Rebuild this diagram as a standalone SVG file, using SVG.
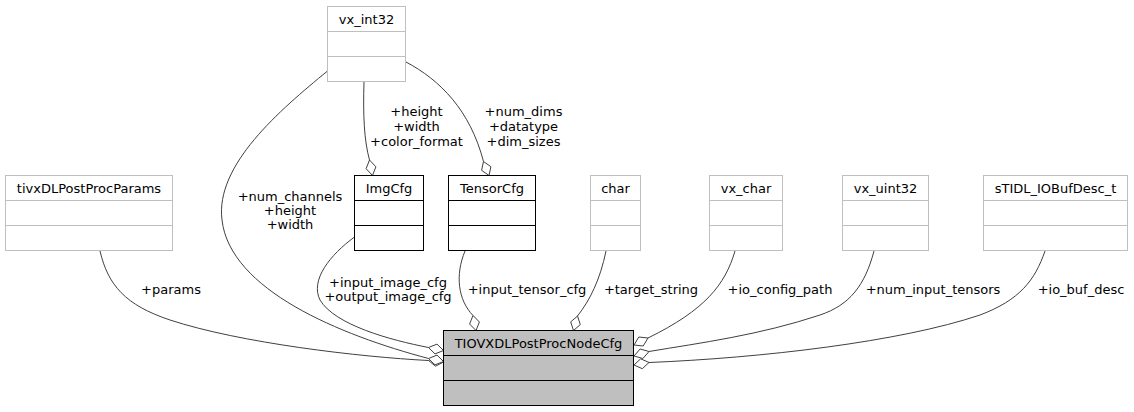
<svg xmlns="http://www.w3.org/2000/svg" width="1134" height="412" viewBox="0 0 1134 412">
<style>
text{font-family:"DejaVu Sans","Noto Sans",sans-serif;font-size:13px;fill:#000}
.c{text-anchor:middle}
.g rect,.g line{fill:#fff;stroke:#bfbfbf;stroke-width:1}
.k rect,.k line{fill:#fff;stroke:#000;stroke-width:1}
.m rect{fill:#bfbfbf;stroke:#000;stroke-width:1}
.m line{stroke:#000;stroke-width:1}
.e path{fill:none;stroke:#404040;stroke-width:1}
.e polygon{fill:#fff;stroke:#404040;stroke-width:1}
</style>
<rect width="1134" height="412" fill="#fff"/>
<g id="connectors" class="e">
<path d="M100,251 C108,285 125,305 170,320 C240,343 360,357 428.5,360.5"/>
<polygon points="428.5,360.5 435.5,366.2 443.5,362 436.5,356.3"/>
<path d="M327.5,71 C280,110 215,165 222,220 C230,290 340,335 428.5,358.5"/>
<polygon points="428.5,358.5 435,364.9 443.5,361.5 437,355.1"/>
<path d="M354.5,237 C330,255 310,280 320,300 C335,325 390,340 428.5,347.5"/>
<polygon points="428.5,347.5 435,353.9 443.5,350.5 437,344.1"/>
<path d="M364,81.5 C363,115 364,140 369.5,160"/>
<polygon points="369.5,160 366.1,168.7 372.5,175.5 375.9,166.8"/>
<path d="M406,62 C440,80 470,110 483.5,161.5"/>
<polygon points="483.5,161.5 481.6,170.3 489,175.5 490.9,166.7"/>
<path d="M465,251 C455,275 458,300 473,315.5"/>
<polygon points="473,315.5 469.6,324 476,330.5 479.4,322"/>
<path d="M606,251 C600,280 590,300 577.5,316"/>
<polygon points="577.5,316 570.7,321.9 573.5,330.5 580.3,324.6"/>
<path d="M735,251 C725,285 705,310 648,338"/>
<polygon points="648,338 638.8,337 634,345 643.2,346"/>
<path d="M874,251 C865,285 850,305 820,315 C760,335 700,343 649,351.5"/>
<polygon points="649,351.5 640.1,349 634,356 642.9,358.5"/>
<path d="M1045,251 C1035,280 1020,300 980,315 C900,342 760,358 649,362.5"/>
<polygon points="649,362.5 640.7,358.8 634,365 642.3,368.7"/>
<text class="c" x="171" y="294">+params</text>
<text class="c" x="290" y="201">+num_channels</text>
<text class="c" x="290" y="215">+height</text>
<text class="c" x="290" y="229">+width</text>
<text class="c" x="416.5" y="116">+height</text>
<text class="c" x="416.5" y="131">+width</text>
<text class="c" x="416.5" y="146">+color_format</text>
<text class="c" x="523.5" y="116">+num_dims</text>
<text class="c" x="523.5" y="131">+datatype</text>
<text class="c" x="523.5" y="146">+dim_sizes</text>
<text class="c" x="388" y="286.5">+input_image_cfg</text>
<text class="c" x="388" y="300.5">+output_image_cfg</text>
<text class="c" x="527" y="293.5">+input_tensor_cfg</text>
<text class="c" x="651" y="293.5">+target_string</text>
<text class="c" x="780" y="293.5">+io_config_path</text>
<text class="c" x="933" y="293.5">+num_input_tensors</text>
<text class="c" x="1081" y="293.5">+io_buf_desc</text>
</g>
<g id="TIOVXDLPostProcNodeCfg" class="m">
<rect x="443.5" y="330.5" width="190" height="75"/>
<line x1="443.5" y1="355.5" x2="633.5" y2="355.5"/>
<line x1="443.5" y1="380.5" x2="633.5" y2="380.5"/>
<text class="c" x="538.5" y="347.5">TIOVXDLPostProcNodeCfg</text>
</g>
<g id="tivxDLPostProcParams" class="g">
<rect x="5.5" y="175.5" width="167" height="75"/>
<line x1="5.5" y1="200.5" x2="172.5" y2="200.5"/>
<line x1="5.5" y1="225.5" x2="172.5" y2="225.5"/>
<text class="c" x="89" y="192.5">tivxDLPostProcParams</text>
</g>
<g id="vx_int32" class="g">
<rect x="327.5" y="6.5" width="78" height="75"/>
<line x1="327.5" y1="31.5" x2="405.5" y2="31.5"/>
<line x1="327.5" y1="56.5" x2="405.5" y2="56.5"/>
<text class="c" x="366.5" y="23.5">vx_int32</text>
</g>
<g id="ImgCfg" class="k">
<rect x="354.5" y="175.5" width="69" height="75"/>
<line x1="354.5" y1="200.5" x2="423.5" y2="200.5"/>
<line x1="354.5" y1="225.5" x2="423.5" y2="225.5"/>
<text class="c" x="389" y="192.5">ImgCfg</text>
</g>
<g id="TensorCfg" class="k">
<rect x="448.5" y="175.5" width="87" height="75"/>
<line x1="448.5" y1="200.5" x2="535.5" y2="200.5"/>
<line x1="448.5" y1="225.5" x2="535.5" y2="225.5"/>
<text class="c" x="492" y="192.5">TensorCfg</text>
</g>
<g id="char" class="g">
<rect x="590.5" y="175.5" width="50" height="75"/>
<line x1="590.5" y1="200.5" x2="640.5" y2="200.5"/>
<line x1="590.5" y1="225.5" x2="640.5" y2="225.5"/>
<text class="c" x="615.5" y="192.5">char</text>
</g>
<g id="vx_char" class="g">
<rect x="709.5" y="175.5" width="73" height="75"/>
<line x1="709.5" y1="200.5" x2="782.5" y2="200.5"/>
<line x1="709.5" y1="225.5" x2="782.5" y2="225.5"/>
<text class="c" x="746" y="192.5">vx_char</text>
</g>
<g id="vx_uint32" class="g">
<rect x="842.5" y="175.5" width="86" height="75"/>
<line x1="842.5" y1="200.5" x2="928.5" y2="200.5"/>
<line x1="842.5" y1="225.5" x2="928.5" y2="225.5"/>
<text class="c" x="885.5" y="192.5">vx_uint32</text>
</g>
<g id="sTIDL_IOBufDesc_t" class="g">
<rect x="983.5" y="175.5" width="144" height="75"/>
<line x1="983.5" y1="200.5" x2="1127.5" y2="200.5"/>
<line x1="983.5" y1="225.5" x2="1127.5" y2="225.5"/>
<text class="c" x="1055.5" y="192.5">sTIDL_IOBufDesc_t</text>
</g>
</svg>
